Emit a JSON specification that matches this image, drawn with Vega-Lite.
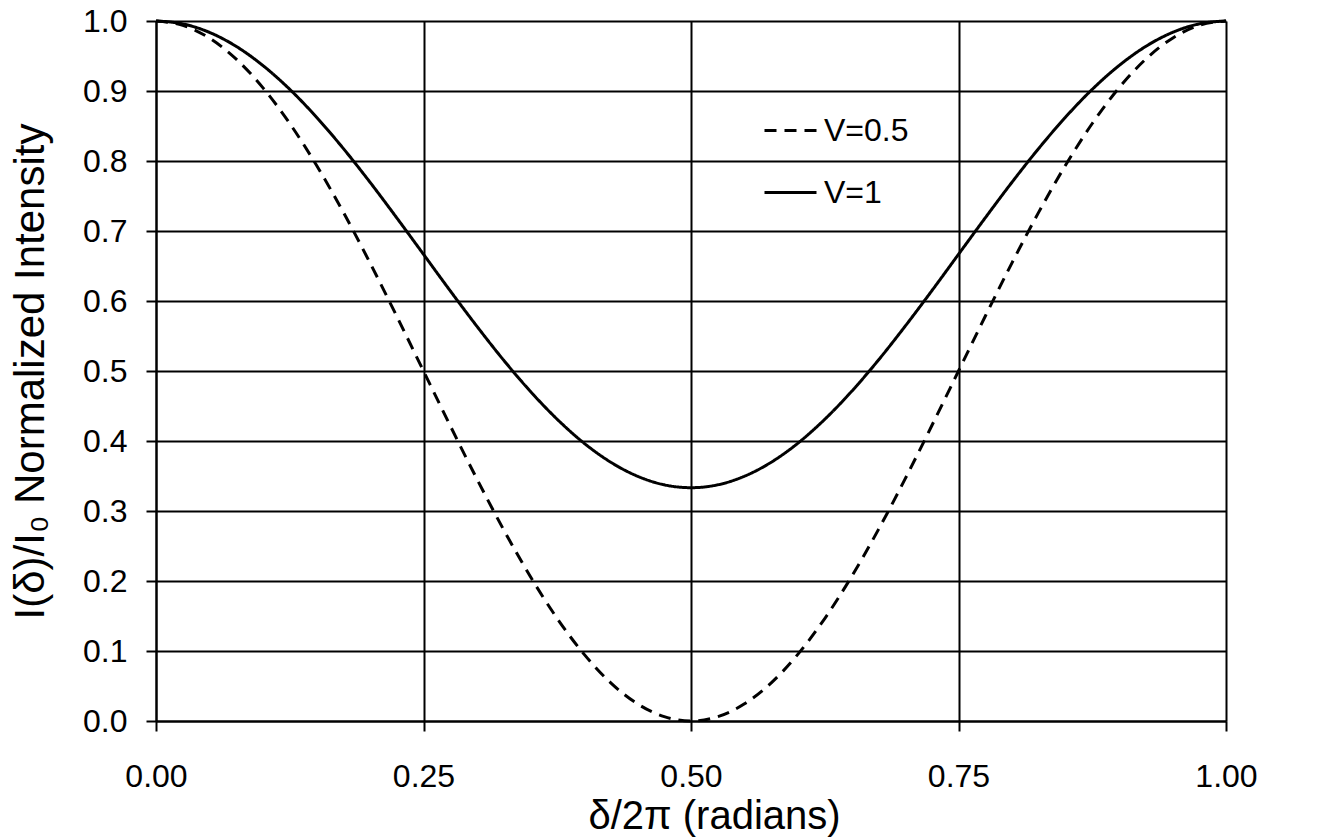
{
  "$schema": "https://vega.github.io/schema/vega-lite/v6.json",
  "autosize": {"type": "none"},
  "padding": {"left": 156, "top": 21, "right": 96, "bottom": 119},
  "width": 1070,
  "height": 700,
  "background": "white",
  "config": {
    "view": {"stroke": null},
    "font": "Liberation Sans",
    "axis": {
      "labelFont": "Liberation Sans",
      "titleFont": "Liberation Sans",
      "labelColor": "black",
      "titleColor": "black",
      "labelFontSize": 32,
      "titleFontSize": 40,
      "titleFontWeight": "normal",
      "domainColor": "black",
      "domainWidth": 2,
      "tickColor": "black",
      "tickWidth": 2,
      "tickSize": 10,
      "gridColor": "black",
      "gridWidth": 2,
      "gridOpacity": 1
    }
  },
  "data": {"values": [
    {"x":0,"y":1,"s":"V=0.5"},{"x":0.025,"y":0.9938,"s":"V=0.5"},{"x":0.05,"y":0.9755,"s":"V=0.5"},{"x":0.075,"y":0.9455,"s":"V=0.5"},{"x":0.1,"y":0.9045,"s":"V=0.5"},{"x":0.125,"y":0.8536,"s":"V=0.5"},{"x":0.15,"y":0.7939,"s":"V=0.5"},{"x":0.175,"y":0.727,"s":"V=0.5"},{"x":0.2,"y":0.6545,"s":"V=0.5"},{"x":0.225,"y":0.5782,"s":"V=0.5"},{"x":0.25,"y":0.5,"s":"V=0.5"},{"x":0.275,"y":0.4218,"s":"V=0.5"},{"x":0.3,"y":0.3455,"s":"V=0.5"},{"x":0.325,"y":0.273,"s":"V=0.5"},{"x":0.35,"y":0.2061,"s":"V=0.5"},{"x":0.375,"y":0.1464,"s":"V=0.5"},{"x":0.4,"y":0.0955,"s":"V=0.5"},{"x":0.425,"y":0.0545,"s":"V=0.5"},{"x":0.45,"y":0.0245,"s":"V=0.5"},{"x":0.475,"y":0.0062,"s":"V=0.5"},{"x":0.5,"y":0,"s":"V=0.5"},{"x":0.525,"y":0.0062,"s":"V=0.5"},{"x":0.55,"y":0.0245,"s":"V=0.5"},{"x":0.575,"y":0.0545,"s":"V=0.5"},{"x":0.6,"y":0.0955,"s":"V=0.5"},{"x":0.625,"y":0.1464,"s":"V=0.5"},{"x":0.65,"y":0.2061,"s":"V=0.5"},{"x":0.675,"y":0.273,"s":"V=0.5"},{"x":0.7,"y":0.3455,"s":"V=0.5"},{"x":0.725,"y":0.4218,"s":"V=0.5"},{"x":0.75,"y":0.5,"s":"V=0.5"},{"x":0.775,"y":0.5782,"s":"V=0.5"},{"x":0.8,"y":0.6545,"s":"V=0.5"},{"x":0.825,"y":0.727,"s":"V=0.5"},{"x":0.85,"y":0.7939,"s":"V=0.5"},{"x":0.875,"y":0.8536,"s":"V=0.5"},{"x":0.9,"y":0.9045,"s":"V=0.5"},{"x":0.925,"y":0.9455,"s":"V=0.5"},{"x":0.95,"y":0.9755,"s":"V=0.5"},{"x":0.975,"y":0.9938,"s":"V=0.5"},{"x":1,"y":1,"s":"V=0.5"},
    {"x":0,"y":1,"s":"V=1"},{"x":0.025,"y":0.9959,"s":"V=1"},{"x":0.05,"y":0.9837,"s":"V=1"},{"x":0.075,"y":0.9637,"s":"V=1"},{"x":0.1,"y":0.9363,"s":"V=1"},{"x":0.125,"y":0.9024,"s":"V=1"},{"x":0.15,"y":0.8626,"s":"V=1"},{"x":0.175,"y":0.818,"s":"V=1"},{"x":0.2,"y":0.7697,"s":"V=1"},{"x":0.225,"y":0.7188,"s":"V=1"},{"x":0.25,"y":0.6667,"s":"V=1"},{"x":0.275,"y":0.6145,"s":"V=1"},{"x":0.3,"y":0.5637,"s":"V=1"},{"x":0.325,"y":0.5153,"s":"V=1"},{"x":0.35,"y":0.4707,"s":"V=1"},{"x":0.375,"y":0.431,"s":"V=1"},{"x":0.4,"y":0.397,"s":"V=1"},{"x":0.425,"y":0.3697,"s":"V=1"},{"x":0.45,"y":0.3497,"s":"V=1"},{"x":0.475,"y":0.3374,"s":"V=1"},{"x":0.5,"y":0.3333,"s":"V=1"},{"x":0.525,"y":0.3374,"s":"V=1"},{"x":0.55,"y":0.3497,"s":"V=1"},{"x":0.575,"y":0.3697,"s":"V=1"},{"x":0.6,"y":0.397,"s":"V=1"},{"x":0.625,"y":0.431,"s":"V=1"},{"x":0.65,"y":0.4707,"s":"V=1"},{"x":0.675,"y":0.5153,"s":"V=1"},{"x":0.7,"y":0.5637,"s":"V=1"},{"x":0.725,"y":0.6145,"s":"V=1"},{"x":0.75,"y":0.6667,"s":"V=1"},{"x":0.775,"y":0.7188,"s":"V=1"},{"x":0.8,"y":0.7697,"s":"V=1"},{"x":0.825,"y":0.818,"s":"V=1"},{"x":0.85,"y":0.8626,"s":"V=1"},{"x":0.875,"y":0.9024,"s":"V=1"},{"x":0.9,"y":0.9363,"s":"V=1"},{"x":0.925,"y":0.9637,"s":"V=1"},{"x":0.95,"y":0.9837,"s":"V=1"},{"x":0.975,"y":0.9959,"s":"V=1"},{"x":1,"y":1,"s":"V=1"}
  ]},
  "mark": {"type": "line", "interpolate": "monotone", "color": "black", "strokeWidth": 3},
  "encoding": {
    "x": {
      "field": "x", "type": "quantitative",
      "scale": {"domain": [0, 1], "nice": false, "zero": false},
      "axis": {
        "values": [0, 0.25, 0.5, 0.75, 1],
        "format": ".2f",
        "title": "δ/2π (radians)",
        "titleX": 558,
        "labelPadding": 30,
        "titlePadding": 4,
        "labelFlush": false
      }
    },
    "y": {
      "field": "y", "type": "quantitative",
      "scale": {"domain": [0, 1], "nice": false},
      "axis": {
        "values": [0, 0.1, 0.2, 0.3, 0.4, 0.5, 0.6, 0.7, 0.8, 0.9, 1],
        "format": ".1f",
        "title": "I(δ)/I₀ Normalized Intensity",
        "titleFontSize": 42,
        "labelPadding": 19,
        "titlePadding": 30,
        "labelFlush": false
      }
    },
    "strokeDash": {
      "field": "s", "type": "nominal",
      "scale": {"domain": ["V=0.5", "V=1"], "range": [[12, 8], [1, 0]]},
      "legend": {
        "title": null,
        "orient": "none",
        "legendX": 607,
        "legendY": 82,
        "symbolType": "stroke",
        "symbolSize": 2704,
        "symbolStrokeWidth": 3,
        "symbolStrokeColor": "black",
        "labelFont": "Liberation Sans",
        "labelFontSize": 32,
        "labelColor": "black",
        "labelOffset": 6,
        "rowPadding": 18,
        "padding": 0
      }
    }
  }
}
